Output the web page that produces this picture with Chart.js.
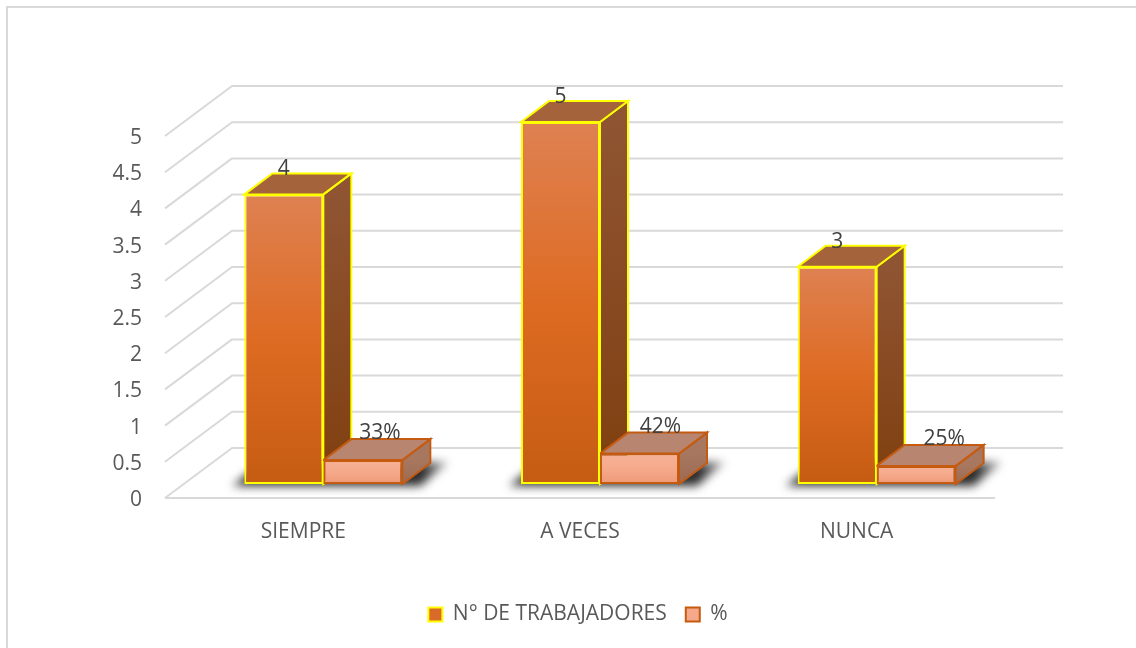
<!DOCTYPE html>
<html>
<head>
<meta charset="utf-8">
<script src="https://cdn.jsdelivr.net/npm/chart.js@4"></script>
<style>html,body{margin:0;padding:0;background:#fff}canvas{display:block}</style>
</head>
<body>
<canvas id="c" width="1136" height="648"></canvas>
<script>
const categories = ['SIEMPRE', 'A VECES', 'NUNCA'];
const workers = [4, 5, 3];
const percents = [0.33, 0.42, 0.25];
const seriesNames = ['N° DE TRABAJADORES', '%'];
const percentLabels = ['33%', '42%', '25%'];

const DEPTH = { x: 28, y: -21 };      // bar depth
const SHIFT = { x: 20, y: -16 };      // bars stand inside the floor
const WALL = { x: 67, y: -52 };       // back wall offset
const FRONT_Y = -2;                   // front edge of the floor relative to the tick labels
const FONT = '"Open Sans", sans-serif';
const LABEL_DX = [17, 21, 28];

const looks = [
  { stops: ['#DE8152', '#DE6B22', '#C55C12'], top: '#A5633B', side: ['#8F5432', '#7F3F0F'], border: '#FFFF00' },
  { stops: ['#F7B197', '#F5A98A', '#EE9A78'], top: '#B88670', side: ['#A8775F', '#9C6A52'], border: '#C55A11' }
];

function frontFill(ds) {
  return ctx => {
    const chart = ctx.chart, y = chart.scales.y;
    if (!y || ctx.dataIndex === undefined) return looks[ds].stops[1];
    const v = ctx.dataset.data[ctx.dataIndex];
    const g = chart.ctx.createLinearGradient(0, y.getPixelForValue(v), 0, y.getPixelForValue(0));
    looks[ds].stops.forEach((c, i) => g.addColorStop(i / 2, c));
    return g;
  };
}

function poly(c, pts, fill, stroke) {
  c.beginPath();
  pts.forEach((p, i) => i ? c.lineTo(p[0], p[1]) : c.moveTo(p[0], p[1]));
  c.closePath();
  c.fillStyle = fill;
  c.fill();
  c.lineWidth = 2;
  c.lineJoin = 'miter';
  c.strokeStyle = stroke;
  c.stroke();
}

const scene = {
  id: 'scene',
  beforeDraw(chart) {
    const c = chart.ctx;
    c.save();
    c.fillStyle = '#fff';
    c.fillRect(0, 0, chart.width, chart.height);
    c.strokeStyle = '#d9d9d9';
    c.lineWidth = 2;
    c.beginPath();
    c.moveTo(7, chart.height);
    c.lineTo(7, 7);
    c.lineTo(chart.width, 7);
    c.stroke();
    c.restore();
  },
  beforeDatasetsDraw(chart) {
    const c = chart.ctx, y = chart.scales.y, a = chart.chartArea;
    c.save();
    c.strokeStyle = '#d9d9d9';
    c.lineWidth = 2;
    c.lineJoin = 'round';
    y.ticks.forEach(t => {
      const py = y.getPixelForValue(t.value);
      c.beginPath();
      c.moveTo(a.left, py + FRONT_Y);
      c.lineTo(a.left + WALL.x, py + WALL.y);
      c.lineTo(a.right + WALL.x + 1, py + WALL.y);
      c.stroke();
    });
    const p0 = y.getPixelForValue(0) + FRONT_Y;
    c.beginPath();
    c.moveTo(a.left, p0);
    c.lineTo(a.right, p0);
    c.stroke();

    // floor shadows
    const m0 = chart.getDatasetMeta(0), m1 = chart.getDatasetMeta(1);
    c.translate(SHIFT.x, SHIFT.y);
    c.save();
    c.filter = 'blur(5px)';
    m0.data.forEach((b, i) => {
      const l = b.x - b.width / 2, r = m1.data[i].x + m1.data[i].width / 2, f = b.base;
      const g = c.createLinearGradient(r + 20, 0, r + 52, 0);
      g.addColorStop(0, '#2e2e2e');
      g.addColorStop(1, 'rgba(90,90,90,0.35)');
      c.beginPath();
      c.moveTo(l - 12, f + 2);
      c.lineTo(l + 16, f - 20);
      c.lineTo(r + 46, f - 22);
      c.lineTo(r + 18, f + 2);
      c.closePath();
      c.fillStyle = g;
      c.fill();
    });
    c.restore();

    // depth faces of both series
    [m0, m1].forEach((m, ds) => {
      m.data.forEach(b => {
        const l = b.x - b.width / 2, r = b.x + b.width / 2, t = b.y, f = b.base;
        const g = c.createLinearGradient(0, t, 0, f);
        g.addColorStop(0, looks[ds].side[0]);
        g.addColorStop(1, looks[ds].side[1]);
        poly(c, [[r, t], [r + DEPTH.x, t + DEPTH.y], [r + DEPTH.x, f + DEPTH.y], [r, f]], g, looks[ds].border);
        poly(c, [[l, t], [l + DEPTH.x, t + DEPTH.y], [r + DEPTH.x, t + DEPTH.y], [r, t]], looks[ds].top, looks[ds].border);
      });
    });
    c.restore();
  },
  beforeDatasetDraw(chart, args) {
    if (args.index === 1) return false;
    chart.ctx.save();
    chart.ctx.translate(SHIFT.x, SHIFT.y);
  },
  afterDatasetDraw(chart, args) {
    if (args.index === 0) {
      chart.getDatasetMeta(1).data.forEach(b => b.draw(chart.ctx));
      chart.ctx.restore();
    }
  },
  afterDatasetsDraw(chart) {
    const c = chart.ctx;
    c.save();
    c.translate(SHIFT.x, SHIFT.y);
    c.font = '21px ' + FONT;
    c.fillStyle = '#404040';
    c.textAlign = 'center';
    c.textBaseline = 'middle';
    chart.getDatasetMeta(0).data.forEach((b, i) => c.fillText(String(workers[i]), b.x, b.y - 25));
    chart.getDatasetMeta(1).data.forEach((b, i) => c.fillText(percentLabels[i], b.x + LABEL_DX[i], b.y - 27));
    c.restore();
  }
};

new Chart(document.getElementById('c'), {
  type: 'bar',
  data: {
    labels: categories,
    datasets: [
      { label: seriesNames[0], data: workers, backgroundColor: frontFill(0), borderColor: looks[0].border, borderWidth: 2, borderSkipped: false, yAxisID: 'y' },
      { label: seriesNames[1], data: percents, backgroundColor: frontFill(1), borderColor: looks[1].border, borderWidth: 2, borderSkipped: false, yAxisID: 'y' }
    ]
  },
  plugins: [scene],
  options: {
    responsive: false,
    animation: false,
    devicePixelRatio: 1,
    barPercentage: 1,
    categoryPercentage: 0.571,
    layout: { padding: { left: 20, right: 0, top: 138, bottom: 13 } },
    plugins: {
      tooltip: { enabled: false },
      legend: {
        position: 'bottom',
        labels: {
          font: { family: FONT, size: 21 },
          color: '#595959',
          boxWidth: 14,
          boxHeight: 14,
          padding: 19,
          generateLabels: () => [
            { text: seriesNames[0], fillStyle: '#DA6A27', strokeStyle: looks[0].border, lineWidth: 2, fontColor: '#595959', datasetIndex: 0 },
            { text: seriesNames[1], fillStyle: '#F5A98A', strokeStyle: looks[1].border, lineWidth: 2, fontColor: '#595959', datasetIndex: 1 }
          ]
        }
      }
    },
    scales: {
      x: {
        grid: { display: false, drawTicks: false },
        border: { display: false },
        ticks: { font: { family: FONT, size: 21 }, color: '#595959', padding: 19, maxRotation: 0 },
        afterFit(s) { s.height = 85; }
      },
      y: {
        min: 0,
        max: 5,
        grid: { display: false, drawTicks: false },
        border: { display: false },
        ticks: {
          stepSize: 0.5,
          autoSkip: false,
          font: { family: FONT, size: 21 },
          color: '#595959',
          padding: 23,
          callback: v => String(v)
        },
        afterFit(s) { s.width = 145; }
      },
      rightMargin: {
        position: 'right',
        min: 0,
        max: 5,
        grid: { display: false, drawTicks: false },
        border: { display: false },
        ticks: { display: false },
        afterFit(s) { s.width = 141; }
      }
    }
  }
});
</script>
</body>
</html>
